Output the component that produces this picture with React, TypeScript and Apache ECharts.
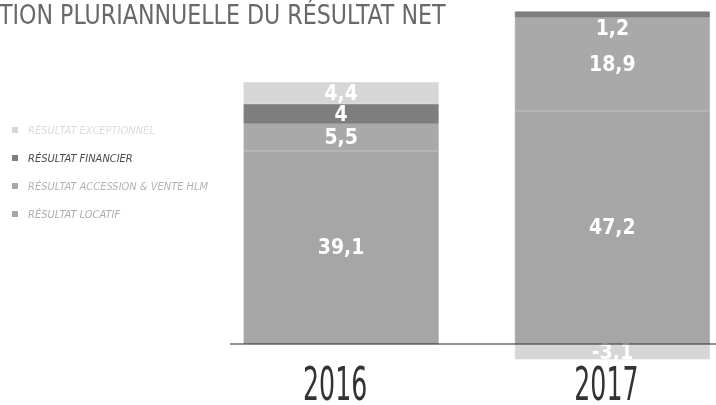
import React, { useEffect, useRef } from "react";
import * as echarts from "echarts";

const categories = ["2016", "2017"];
const locatif = [39.1, 47.2];
const accession = [5.5, 18.9];
const financier = [4, 1.2];
const exceptionnel = [4.4, -3.1];
const seriesNames = [
  "RÉSULTAT EXCEPTIONNEL",
  "RÉSULTAT FINANCIER",
  "RÉSULTAT ACCESSION & VENTE HLM",
  "RÉSULTAT LOCATIF",
];
const titleText = "TION PLURIANNUELLE DU RÉSULTAT NET";
const yMin = -12;
const yMax = 68;

export default function App() {
  const ref = useRef<HTMLDivElement>(null);
  useEffect(() => {
    document.body.style.overflow = "hidden";
    const chart = echarts.init(ref.current!, null, { renderer: "svg" });
    const S = 4.94;
    const Y0 = 344;
    const gridTop = Y0 - yMax * S;
    const gridBottom = 405 - (Y0 - yMin * S);
    const font = '"Liberation Sans Narrow", "DejaVu Sans Condensed", "Roboto", sans-serif';
    const fmt = (p: any) => String(p.value).replace(".", ",");
    const colors = ["#d6d6d6", "#7e7e7e", "#a9a9a9", "#a6a6a6"];
    const textColors = ["#dcdcdc", "#4a4a4a", "#b3b3b3", "#adadad"];
    const mk = (name: string, data: any[], color: string) => ({
      name,
      type: "bar",
      stack: "total",
      data,
      barWidth: 195,
      itemStyle: { color, borderColor: color, borderWidth: 0.6 },
      label: {
        show: true,
        position: "inside",
        color: "#fff",
        fontFamily: font,
        fontSize: 21,
        fontWeight: "bold",
        formatter: fmt,
      },
    });
    chart.setOption({
      animation: false,
      legend: {
        orient: "vertical",
        left: 12,
        top: 124,
        padding: 0,
        itemWidth: 6,
        itemHeight: 6,
        itemGap: 16,
        icon: "rect",
        selectedMode: false,
        data: seriesNames.map((n, i) => ({
          name: n,
          textStyle: { color: textColors[i] },
          itemStyle: { borderWidth: 0 },
        })),
        textStyle: {
          fontFamily: font,
          fontSize: 11,
          fontStyle: "italic",
          lineHeight: 12,
          padding: [0, 0, 0, 5],
        },
      },
      grid: { left: 205.5, right: 0, top: gridTop, bottom: gridBottom },
      xAxis: {
        type: "category",
        data: categories,
        axisLine: { show: false },
        axisTick: { show: false },
        axisLabel: { show: false },
      },
      yAxis: {
        type: "value",
        min: yMin,
        max: yMax,
        show: false,
        splitLine: { show: false },
      },
      series: [
        mk(seriesNames[3], locatif, colors[3]),
        mk(seriesNames[2], accession, colors[2]),
        mk(
          seriesNames[1],
          financier.map((v, i) =>
            i === 1 ? { value: v, label: { position: "bottom", distance: 0 } } : v
          ),
          colors[1]
        ),
        mk(seriesNames[0], exceptionnel, colors[0]),
      ],
    });
    const y0 = chart.convertToPixel({ yAxisIndex: 0 }, 0) as number;
    const graphics: any[] = [
      {
        type: "line",
        z: 100,
        shape: { x1: 230, y1: y0, x2: 716, y2: y0 },
        style: { stroke: "#222", lineWidth: 1.2 },
      },
      {
        type: "text",
        x: -1,
        y: 15,
        scaleX: 0.93,
        style: {
          text: titleText,
          fontFamily: font,
          fontSize: 26.5,
          fill: "#686868",
          align: "left",
          verticalAlign: "middle",
        },
      },
    ];
    categories.forEach((c) => {
      const x = chart.convertToPixel({ xAxisIndex: 0 }, c) as number;
      graphics.push({
        type: "text",
        x: x - 6,
        y: 384,
        scaleX: 0.61,
        style: {
          text: c,
          fontFamily: font,
          fontSize: 46,
          fontWeight: 300,
          fill: "#333",
          align: "center",
          verticalAlign: "middle",
        },
      });
    });
    chart.setOption({ graphic: graphics });
    return () => chart.dispose();
  }, []);
  return (
    <div
      ref={ref}
      style={{ position: "fixed", left: 0, top: 0, width: 748, height: 405 }}
    />
  );
}
